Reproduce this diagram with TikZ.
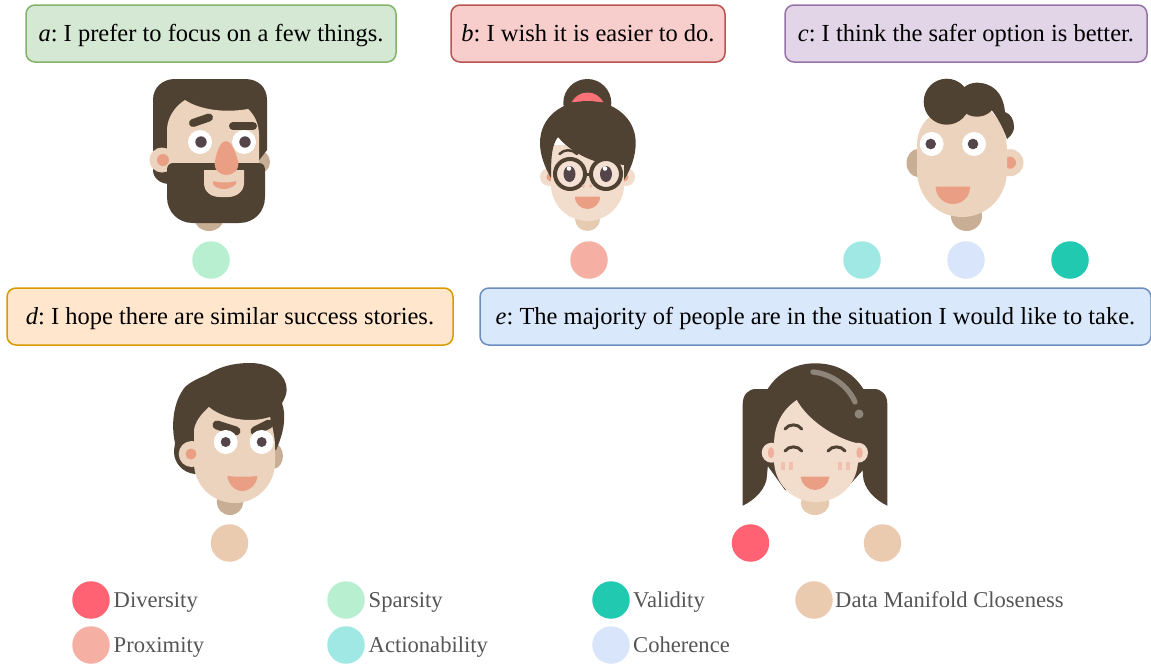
\documentclass[tikz,border=0pt]{standalone}
\usepackage{fontspec}
\setmainfont{Liberation Serif}
\frenchspacing
\definecolor{hair}{HTML}{4F4232}
\definecolor{skin}{HTML}{EBD3BD}
\definecolor{skinb}{HTML}{F2DCCB}
\definecolor{shadec}{HTML}{C8AE94}
\definecolor{neckb}{HTML}{E6CBB0}
\definecolor{coral}{HTML}{EA9E84}
\definecolor{pupil}{HTML}{54454A}
\definecolor{cdiv}{HTML}{FF6272}
\definecolor{cspa}{HTML}{B8EFD0}
\definecolor{cval}{HTML}{20C9B0}
\definecolor{cdmc}{HTML}{EBCBB0}
\definecolor{cpro}{HTML}{F5AFA3}
\definecolor{cact}{HTML}{A0E8E3}
\definecolor{ccoh}{HTML}{D8E5FA}
\definecolor{lgtext}{HTML}{555555}
\definecolor{boxaf}{HTML}{D5E8D4}\definecolor{boxad}{HTML}{82B366}
\definecolor{boxbf}{HTML}{F8CECC}\definecolor{boxbd}{HTML}{B85450}
\definecolor{boxcf}{HTML}{E1D5E7}\definecolor{boxcd}{HTML}{9673A6}
\definecolor{boxdf}{HTML}{FFE6CC}\definecolor{boxdd}{HTML}{D79B00}
\definecolor{boxef}{HTML}{DAE8FC}\definecolor{boxed}{HTML}{6C8EBF}
\tikzset{
  box/.style={rounded corners=9pt,line width=1.5pt,minimum height=57pt,inner sep=0pt,text height=22pt,text depth=5.6pt,font=\fontsize{24.5}{30}\selectfont,text=black},
  dot/.style={circle,fill=#1,draw=none,minimum size=37.5pt,inner sep=0pt},
  lg/.style={anchor=west,inner sep=0pt,text height=20pt,text depth=5.4pt,text=lgtext,font=\fontsize{22.6}{27}\selectfont},
}
\newcommand{\eyepair}[5]{%
  \fill[white] (#1,#2) circle (12);\fill[white] (#3,#2) circle (12);
  \fill[pupil] (#1+#4,#2) circle (#5);\fill[pupil] (#3+#4,#2) circle (#5);}
\begin{document}
\begin{tikzpicture}[x=1pt,y=-1pt]
\useasboundingbox (0,0) rectangle (1151,664);
% boxes
\node[box,draw=boxad,fill=boxaf,minimum width=370pt] (a) at (211,33.5) {\textit{a}: I prefer to focus on a few things.};
\node[box,draw=boxbd,fill=boxbf,minimum width=274pt] (b) at (588,33.5) {\textit{b}: I wish it is easier to do.};
\node[box,draw=boxcd,fill=boxcf,minimum width=362pt] (c) at (966,33.5) {\textit{c}: I think the safer option is better.};
\node[box,draw=boxdd,fill=boxdf,minimum width=446pt] (d) at (230,316.5) {\textit{d}: I hope there are similar success stories.};
\node[box,draw=boxed,fill=boxef,minimum width=671pt] (e) at (815.5,316.5) {\textit{e}: The majority of people are in the situation I would like to take.};
% face a
\fill[shadec] (209,220) ellipse (14 and 11);
\fill[shadec] (258,162) circle (12);
\fill[hair] (153,100) .. controls (153,87) and (163,79) .. (175,79) -- (245,79) .. controls (258,79) and (267,87) .. (267,100) -- (267,150) -- (240,185) -- (170,184) .. controls (160,184) and (153,178) .. (153,170) -- cycle;
\fill[skin] (167,165) -- (167,130) .. controls (167,118) and (175,106) .. (185,100) .. controls (200,110) and (225,113) .. (248,109) .. controls (255,115) and (259,125) .. (259,135) -- (259,165) -- cycle;
\fill[skin] (162,160) circle (12.5);
\fill[coral] (163,160) circle (6);
\fill[hair] (173,163) -- (259,163) .. controls (263,163) and (265,166) .. (265,170) -- (265,197) .. controls (265,212) and (254,223) .. (239,223) -- (193,223) .. controls (178,223) and (167,212) .. (167,197) -- (167,170) .. controls (167,166) and (169,163) .. (173,163) -- cycle;
\fill[skin] (204,170) -- (244,170) -- (244,183) .. controls (244,192) and (236,197) .. (228,197) -- (220,197) .. controls (211,197) and (204,192) .. (204,183) -- cycle;
\fill[coral] (213,181) .. controls (219,183) and (230,183) .. (236,181) -- (236,184) .. controls (232,188) and (227,189) .. (224,189) .. controls (221,189) and (215,188) .. (213,184) -- cycle;
\draw[hair,line width=8pt,line cap=round] (193,123) -- (209,117.5);
\draw[hair,line width=8pt,line cap=round] (233,126) -- (253,126);
\eyepair{200}{142}{244}{1}{5.7}
\fill[coral] (226,141) .. controls (231,141) and (235,150) .. (238,161) .. controls (240,170) and (233,175) .. (226.5,175) .. controls (220,175) and (213,170) .. (215,161) .. controls (217,150) and (221,141) .. (226,141) -- cycle;
% face b
\fill[neckb] (587.5,219) ellipse (12.5 and 12);
\fill[hair] (587.3,103) circle (24);
\fill[cdiv!75!coral] (571.7,102) .. controls (575,96) and (581,92.5) .. (587.5,92.5) .. controls (594,92.5) and (600,96) .. (603.3,102) -- cycle;
\fill[skinb] (549,177) circle (9);
\fill[skinb] (626,177) circle (9);
\fill[coral] (551,177) circle (4.5);
\fill[coral] (624,177) circle (4.5);
\fill[skinb] (551,145) -- (624,145) -- (624,185) .. controls (624,205) and (607,221) .. (587.5,221) .. controls (568,221) and (551,205) .. (551,185) -- cycle;
\fill[hair] (551,178) .. controls (544,166) and (540,154) .. (540,143) .. controls (540,117) and (562,101) .. (587.5,101) .. controls (613,101) and (635.7,117) .. (635.7,143) .. controls (635.7,156) and (631,169) .. (624,180) -- (624,165) -- (598,162) .. controls (583,158) and (567,148) .. (558,137) .. controls (552,145) and (551,155) .. (551,178) -- cycle;
\draw[hair,line width=2.5pt,line cap=round] (559.5,154) .. controls (564,149) and (572,149) .. (577,154);
\draw[hair,line width=4pt,fill=skinb!85!white] (570,174) circle (15);
\draw[hair,line width=4pt,fill=skinb!85!white] (606,174) circle (15);
\draw[hair,line width=3pt] (585,174) -- (591,174);
\fill[pupil] (569.5,174) ellipse (6 and 8);
\fill[pupil] (606,174) ellipse (6 and 8);
\fill[white] (569,168.5) circle (2.3);
\fill[white] (605,168.5) circle (2.3);
\fill[coral!75!white] (583.3,186) circle (1.8);
\fill[coral!75!white] (590.7,186) circle (1.8);
\fill[coral] (575,196.7) -- (600,196.7) .. controls (600,204) and (594,209) .. (587.5,209) .. controls (581,209) and (575,204) .. (575,196.7) -- cycle;
% face c
\fill[shadec] (966.5,216) ellipse (15.5 and 15);
\fill[shadec] (918,163) ellipse (11.5 and 14);
\fill[skin] (1010,162.7) circle (13.5);
\fill[coral] (1010,162.7) circle (6);
\fill[skin] (917,145) .. controls (917,125) and (930,110) .. (962,100) .. controls (990,100) and (1007,125) .. (1007,150) -- (1007,170) .. controls (1007,197) and (987,217) .. (962,217) .. controls (937,217) and (917,197) .. (917,170) -- cycle;
\fill[hair] (946.7,101.7) circle (23);
\fill[hair] (977,99.7) ellipse (19 and 17);
\fill[hair] (975,83) .. controls (992,82) and (1003,92) .. (1005,112) .. controls (1011,114) and (1014,120) .. (1014,127) .. controls (1014,131) and (1012,135) .. (1007,139) .. controls (1003,127) and (996,115) .. (990,108) -- (975,100) -- cycle;
\eyepair{931.7}{144}{974}{-1}{5.3}
\fill[coral] (935.7,186.7) -- (970,186.7) .. controls (970,197) and (962,204) .. (953,204) .. controls (944,204) and (935.7,197) .. (935.7,186.7) -- cycle;
% face d
\fill[shadec] (230,502) ellipse (13.3 and 13);
\fill[shadec] (273,456) ellipse (10 and 13);
\fill[hair] (206.7,375) .. controls (220,366) and (235,363) .. (250,363) .. controls (272,363) and (287,375) .. (286.7,390) .. controls (286.5,395) and (284,400) .. (282,403) .. controls (286,415) and (285,430) .. (276,450) -- (195,474) .. controls (183,473) and (174,463) .. (174,452) .. controls (174,448) and (175,445) .. (175,443) .. controls (171,425) and (173,402) .. (185,387) .. controls (192,381) and (199,378) .. (206.7,375) -- cycle;
\fill[skin] (194,450) -- (194,430) .. controls (195,422) and (201,414) .. (209,407) .. controls (222,418) and (248,424) .. (270,417) .. controls (273,428) and (275,440) .. (275,445) -- (275,463) .. controls (275,485) and (256,503) .. (235,503) .. controls (212,503) and (194,485) .. (194,463) -- cycle;
\fill[skin] (191.7,454) circle (13);
\fill[coral] (191,454) circle (5.5);
\draw[hair,line width=9pt,line cap=round] (217,425) -- (236,431);
\draw[hair,line width=9pt,line cap=round] (255,431) -- (269,424);
\eyepair{225.7}{442}{261.7}{0}{5}
\fill[coral] (227.3,476) .. controls (237,477) and (248,477) .. (257.3,476) .. controls (257,484) and (250,491) .. (242,491) .. controls (235,491) and (228,484) .. (227.3,476) -- cycle;
% face e
\fill[hair] (742.7,404) .. controls (742.7,395) and (748,389) .. (756,389) -- (775,389) -- (767,475) .. controls (767,488) and (755,500) .. (742.7,505.7) -- cycle;
\fill[hair] (887.3,404) .. controls (887.3,395) and (882,389) .. (874,389) -- (855,389) -- (863,475) .. controls (863,488) and (875,500) .. (887.3,505.7) -- cycle;
\fill[neckb] (815,503) ellipse (14.3 and 12);
\fill[hair] (767,390) .. controls (778,372) and (796,363.3) .. (815,363.3) .. controls (836,363.3) and (853,372) .. (864,390) -- (863,470) -- (845,490) -- (785,490) -- (767,465) -- cycle;
\fill[skinb] (771.7,452.7) circle (10);
\fill[skinb] (858,452.7) circle (10);
\fill[skinb] (774,445) .. controls (774,425) and (782,410) .. (796.7,400) .. controls (808,420) and (833,437) .. (856,443) -- (858,445) -- (858,460) .. controls (858,483) and (840,502) .. (816,502) .. controls (792,502) and (774,483) .. (774,460) -- cycle;
\fill[coral!80!white] (771,452.7) ellipse (3.2 and 5.5);
\fill[coral!80!white] (859.5,452.7) ellipse (3.2 and 5.5);
\draw[white!35!hair,line width=5.3pt,line cap=round] (813,372) .. controls (832,374) and (848,386) .. (855,402);
\fill[white!35!hair] (859,414) circle (4.5);
\draw[hair,line width=3pt,line cap=round] (785,429) .. controls (789,423.5) and (798,423.5) .. (801.7,429);
\draw[hair,line width=3pt,line cap=round] (785,451) .. controls (789,445.5) and (798,445.5) .. (801.7,451);
\draw[hair,line width=3pt,line cap=round] (828,451) .. controls (832,445.5) and (841,445.5) .. (845,451);
\fill[coral!65!white] (781,461.5) rectangle (785,469.5);
\fill[coral!65!white] (788.5,461.5) rectangle (792.5,469.5);
\fill[coral!65!white] (838,461.5) rectangle (842,469.5);
\fill[coral!65!white] (845.5,461.5) rectangle (849.5,469.5);
\fill[coral] (800.7,476.7) -- (829.3,476.7) .. controls (829,484) and (822,490) .. (815,490) .. controls (808,490) and (801,484) .. (800.7,476.7) -- cycle;
% dots
\node[dot=cspa] (p1) at (211,260) {};
\node[dot=cpro] (p2) at (589,260) {};
\node[dot=cact] (p3) at (862,260) {};
\node[dot=ccoh] (p4) at (966,260) {};
\node[dot=cval] (p5) at (1070,260) {};
\node[dot=cdmc] (p6) at (229.5,543) {};
\node[dot=cdiv] (p7) at (750.5,543) {};
\node[dot=cdmc] (p8) at (882.5,543) {};
% legend
\node[dot=cdiv] (l1) at (91,600) {};
\node[dot=cspa] (l2) at (346,600) {};
\node[dot=cval] (l3) at (611,600) {};
\node[dot=cdmc] (l4) at (814,600) {};
\node[dot=cpro] (l5) at (91,645) {};
\node[dot=cact] (l6) at (346,645) {};
\node[dot=ccoh] (l7) at (611,645) {};
\node[lg] (t1) at (113.5,600) {Diversity};
\node[lg] (t2) at (368.5,600) {Sparsity};
\node[lg] (t3) at (633,600) {Validity};
\node[lg] (t4) at (835,600) {Data Manifold Closeness};
\node[lg] (t5) at (113.5,645) {Proximity};
\node[lg] (t6) at (368.5,645) {Actionability};
\node[lg] (t7) at (633,645) {Coherence};
\end{tikzpicture}
\end{document}
